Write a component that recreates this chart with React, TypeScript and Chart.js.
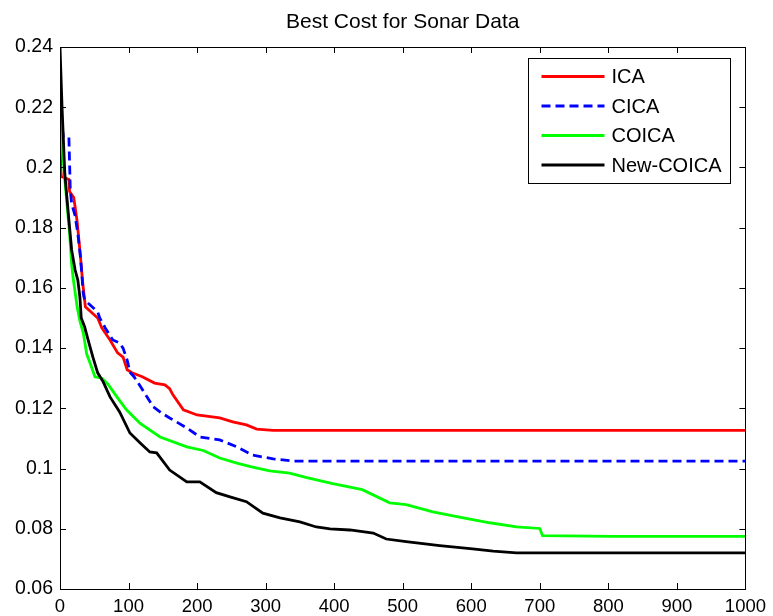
import { useEffect, useRef } from 'react';
import { Chart, registerables } from 'chart.js';

Chart.register(...registerables);

const chartTitle = 'Best Cost for Sonar Data';
const seriesNames = ['ICA', 'CICA', 'COICA', 'New-COICA'];
const seriesColors = ['#ff0000', '#0000ff', '#00ff00', '#000000'];

const xTicks = [0, 100, 200, 300, 400, 500, 600, 700, 800, 900, 1000];
const yTicks = [0.06, 0.08, 0.1, 0.12, 0.14, 0.16, 0.18, 0.2, 0.22, 0.24];

const icaX = [0, 1, 2, 13, 14, 20, 22, 25, 29, 33, 37, 55, 61, 73, 84, 92, 98, 105, 120, 138, 153, 160, 165, 180, 200, 233, 252, 272, 287, 311, 1000];
const icaY = [0.211, 0.2, 0.197, 0.196, 0.192, 0.19, 0.187, 0.182, 0.1726, 0.162, 0.1537, 0.15, 0.1467, 0.1427, 0.1384, 0.137, 0.1328, 0.1318, 0.1305, 0.1284, 0.1278, 0.1265, 0.1244, 0.1195, 0.1178, 0.1168, 0.1155, 0.1145, 0.1131, 0.1127, 0.1127];

const cicaX = [0, 4, 5, 13, 15, 17, 22, 26, 30, 34, 36, 55, 58, 66, 77, 87, 92, 98, 102, 108, 119, 136, 148, 160, 185, 204, 233, 258, 281, 311, 340, 1000];
const cicaY = [0.222, 0.212, 0.21, 0.21, 0.1925, 0.188, 0.184, 0.178, 0.17, 0.158, 0.156, 0.152, 0.15, 0.1467, 0.1427, 0.1417, 0.14, 0.136, 0.132, 0.1305, 0.1267, 0.1205, 0.1185, 0.1168, 0.1135, 0.1105, 0.1095, 0.1072, 0.1045, 0.1032, 0.1025, 0.1025];

const coicaX = [0, 2, 7, 14, 17, 19, 25, 29, 34, 39, 44, 51, 61, 70, 83, 97, 117, 146, 185, 209, 233, 258, 281, 306, 335, 360, 398, 441, 481, 505, 544, 579, 627, 666, 700, 704, 806, 1000];
const coicaY = [0.22, 0.21, 0.196, 0.178, 0.168, 0.1636, 0.1537, 0.149, 0.145, 0.138, 0.135, 0.1305, 0.13, 0.128, 0.1238, 0.1195, 0.115, 0.1105, 0.1072, 0.106, 0.1035, 0.1018, 0.1005, 0.0992, 0.0985, 0.097, 0.095, 0.093, 0.0886, 0.088, 0.0856, 0.084, 0.082, 0.0806, 0.0801, 0.0777, 0.0775, 0.0775];

const newCoicaX = [0, 3, 7, 12, 17, 22, 26, 29, 31, 36, 41, 48, 55, 63, 73, 87, 102, 117, 131, 141, 160, 185, 204, 228, 248, 272, 296, 321, 350, 374, 394, 423, 457, 476, 505, 554, 602, 632, 666, 1000];
const newCoicaY = [0.24, 0.22, 0.198, 0.185, 0.1726, 0.166, 0.1626, 0.157, 0.15, 0.147, 0.1427, 0.137, 0.1318, 0.1288, 0.1238, 0.1188, 0.1118, 0.1085, 0.1055, 0.1052, 0.0995, 0.0956, 0.0956, 0.092, 0.0906, 0.089, 0.0852, 0.0836, 0.0823, 0.0806, 0.08, 0.0796, 0.0786, 0.0766, 0.0757, 0.0744, 0.0733, 0.0726, 0.072, 0.072];

const FONT = '"Liberation Sans", Arial, Helvetica, sans-serif';
const X_TICK_FONT_SIZE = 18.5;
const Y_TICK_FONT_SIZE = 19.5;
const LEGEND_FONT_SIZE = 20;
const TITLE_FONT_SIZE = 21;

const toPoints = (xs: number[], ys: number[]) => xs.map((x, i) => ({ x, y: ys[i] }));

const framePlugin = {
  id: 'matlabFrame',
  afterDatasetsDraw(chart: any) {
    const { ctx, chartArea, scales } = chart;
    const { left, right, top, bottom } = chartArea;
    const tl = 6;
    ctx.save();
    ctx.strokeStyle = '#000';
    ctx.lineWidth = 1;
    ctx.setLineDash([]);
    ctx.strokeRect(Math.round(left) + 0.5, Math.round(top) + 0.5, Math.round(right - left), Math.round(bottom - top));
    ctx.beginPath();
    xTicks.forEach((v) => {
      const px = Math.round(scales.x.getPixelForValue(v)) + 0.5;
      ctx.moveTo(px, bottom);
      ctx.lineTo(px, bottom - tl);
      ctx.moveTo(px, top);
      ctx.lineTo(px, top + tl);
    });
    yTicks.forEach((v) => {
      const py = Math.round(scales.y.getPixelForValue(v)) + 0.5;
      ctx.moveTo(left, py);
      ctx.lineTo(left + tl, py);
      ctx.moveTo(right, py);
      ctx.lineTo(right - tl, py);
    });
    ctx.stroke();
    ctx.restore();
  },
};

const titlePlugin = {
  id: 'matlabTitle',
  afterDraw(chart: any) {
    const { ctx, chartArea } = chart;
    ctx.save();
    ctx.fillStyle = '#000';
    ctx.font = `${TITLE_FONT_SIZE}px ${FONT}`;
    ctx.textAlign = 'center';
    ctx.textBaseline = 'middle';
    ctx.fillText(chartTitle, (chartArea.left + chartArea.right) / 2, 22);
    ctx.restore();
  },
};

const legendPlugin = {
  id: 'matlabLegend',
  afterDraw(chart: any) {
    const { ctx, chartArea } = chart;
    const ds = chart.data.datasets;
    ctx.save();
    ctx.font = `${LEGEND_FONT_SIZE}px ${FONT}`;
    const tw = Math.max(...ds.map((d: any) => ctx.measureText(d.label).width));
    const w = Math.round(83 + tw + 9);
    const h = 125;
    const bx = Math.round(chartArea.right - 15 - w) + 0.5;
    const by = Math.round(chartArea.top + 11) + 0.5;
    ctx.fillStyle = '#fff';
    ctx.fillRect(bx, by, w, h);
    ctx.strokeStyle = '#000';
    ctx.lineWidth = 1;
    ctx.strokeRect(bx, by, w, h);
    ds.forEach((d: any, i: number) => {
      const ry = by + 18 + i * 29.5;
      ctx.beginPath();
      ctx.strokeStyle = d.borderColor;
      ctx.lineWidth = d.borderWidth;
      ctx.setLineDash(d.borderDash || []);
      ctx.moveTo(bx + 13, ry);
      ctx.lineTo(bx + 76, ry);
      ctx.stroke();
      ctx.setLineDash([]);
      ctx.fillStyle = '#000';
      ctx.textAlign = 'left';
      ctx.textBaseline = 'middle';
      ctx.fillText(d.label, bx + 83, ry + 1);
    });
    ctx.restore();
  },
};

export default function App() {
  const canvasRef = useRef<HTMLCanvasElement | null>(null);

  useEffect(() => {
    if (!canvasRef.current) return;
    const allX = [icaX, cicaX, coicaX, newCoicaX];
    const allY = [icaY, cicaY, coicaY, newCoicaY];
    const chart = new Chart(canvasRef.current, {
      type: 'line',
      data: {
        datasets: seriesNames.map((name, i) => ({
          label: name,
          data: toPoints(allX[i], allY[i]),
          borderColor: seriesColors[i],
          backgroundColor: seriesColors[i],
          borderWidth: 2.8,
          borderDash: i === 1 ? [9, 5] : [],
          pointRadius: 0,
          tension: 0,
          fill: false,
          order: 4 - i,
        })),
      },
      options: {
        animation: false,
        responsive: false,
        maintainAspectRatio: false,
        layout: { padding: { top: 47, right: 27, left: 0, bottom: 0 } },
        plugins: {
          legend: { display: false },
          title: { display: false },
          tooltip: { enabled: false },
        },
        scales: {
          x: {
            type: 'linear',
            min: 0,
            max: 1000,
            grid: { display: false, drawTicks: false },
            border: { display: false },
            afterBuildTicks: (s: any) => {
              s.ticks = xTicks.map((v) => ({ value: v }));
            },
            afterFit: (s: any) => {
              s.height = 27;
            },
            ticks: {
              color: '#000',
              font: { family: FONT, size: X_TICK_FONT_SIZE },
              padding: 7,
              maxRotation: 0,
              autoSkip: false,
              callback: (v: any) => String(v),
            },
          },
          y: {
            type: 'linear',
            min: 0.06,
            max: 0.24,
            grid: { display: false, drawTicks: false },
            border: { display: false },
            afterBuildTicks: (s: any) => {
              s.ticks = yTicks.map((v) => ({ value: v }));
            },
            afterFit: (s: any) => {
              s.width = 60;
            },
            ticks: {
              color: '#000',
              font: { family: FONT, size: Y_TICK_FONT_SIZE },
              padding: 7,
              autoSkip: false,
              callback: (v: any) => String(Number(Number(v).toFixed(2))),
            },
          },
        },
      },
      plugins: [framePlugin, titlePlugin, legendPlugin],
    } as any);
    return () => chart.destroy();
  }, []);

  return (
    <div style={{ position: 'absolute', left: 0, top: 0, width: 773, height: 616, background: '#fff' }}>
      <canvas ref={canvasRef} width={773} height={616} style={{ width: 773, height: 616 }} />
    </div>
  );
}
